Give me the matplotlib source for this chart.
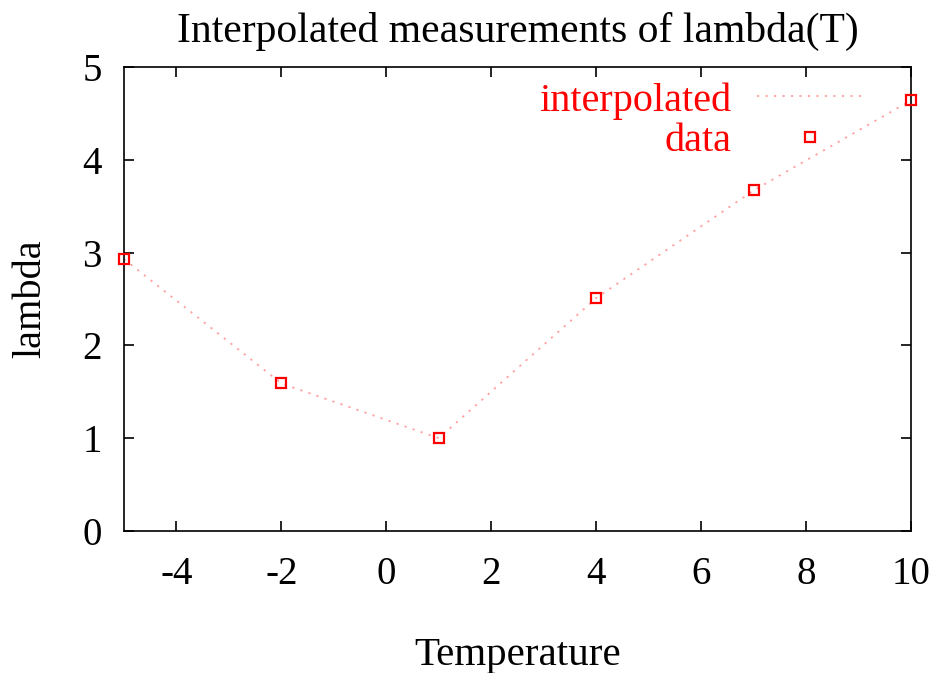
import matplotlib
matplotlib.use("Agg")
import matplotlib.pyplot as plt

temperature = [-5, -2, 1, 4, 7, 10]
lam = [2.93, 1.59, 1.00, 2.51, 3.67, 4.64]
x_ticks = [-4, -2, 0, 2, 4, 6, 8, 10]
y_ticks = [0, 1, 2, 3, 4, 5]

plt.rcParams['font.family'] = ['Liberation Serif', 'DejaVu Serif']
plt.rcParams['axes.unicode_minus'] = False

fig = plt.figure(figsize=(9.34, 6.73), dpi=100)
ax = fig.add_axes([124/934, 1 - 531/673, (911-124)/934, (531-67)/673])

ax.plot(temperature, lam, linestyle=(0, (1.2, 3.5)), color='#ffa0a0', lw=1.3,
        label='interpolated', clip_on=False)
ax.plot(temperature, lam, linestyle='none', marker='s', markersize=7.5,
        markerfacecolor='none', markeredgecolor='red', markeredgewidth=1.6,
        label='data', clip_on=False, zorder=5)

ax.set_xlim(-5, 10)
ax.set_ylim(0, 5)
ax.set_xticks(x_ticks)
ax.set_yticks(y_ticks)
ax.tick_params(direction='in', top=True, right=True, length=7, width=1.2,
               labelsize=28)
ax.tick_params(axis='x', pad=18)
ax.tick_params(axis='y', pad=16)
for s in ax.spines.values():
    s.set_linewidth(1.2)

ax.set_title('Interpolated measurements of lambda(T)', fontsize=30, pad=18)
ax.set_xlabel('Temperature', fontsize=29.5, labelpad=32)
ax.set_ylabel('lambda', fontsize=29, labelpad=24)

leg = ax.legend(loc='upper right', bbox_to_anchor=((862-124)/787, (531-82)/464),
                frameon=False, markerfirst=False, numpoints=1, fontsize=29,
                handlelength=2.6, handletextpad=0.65, labelspacing=0.08,
                borderpad=0, borderaxespad=0, labelcolor='red')

fig.savefig('out.png', dpi=100)
